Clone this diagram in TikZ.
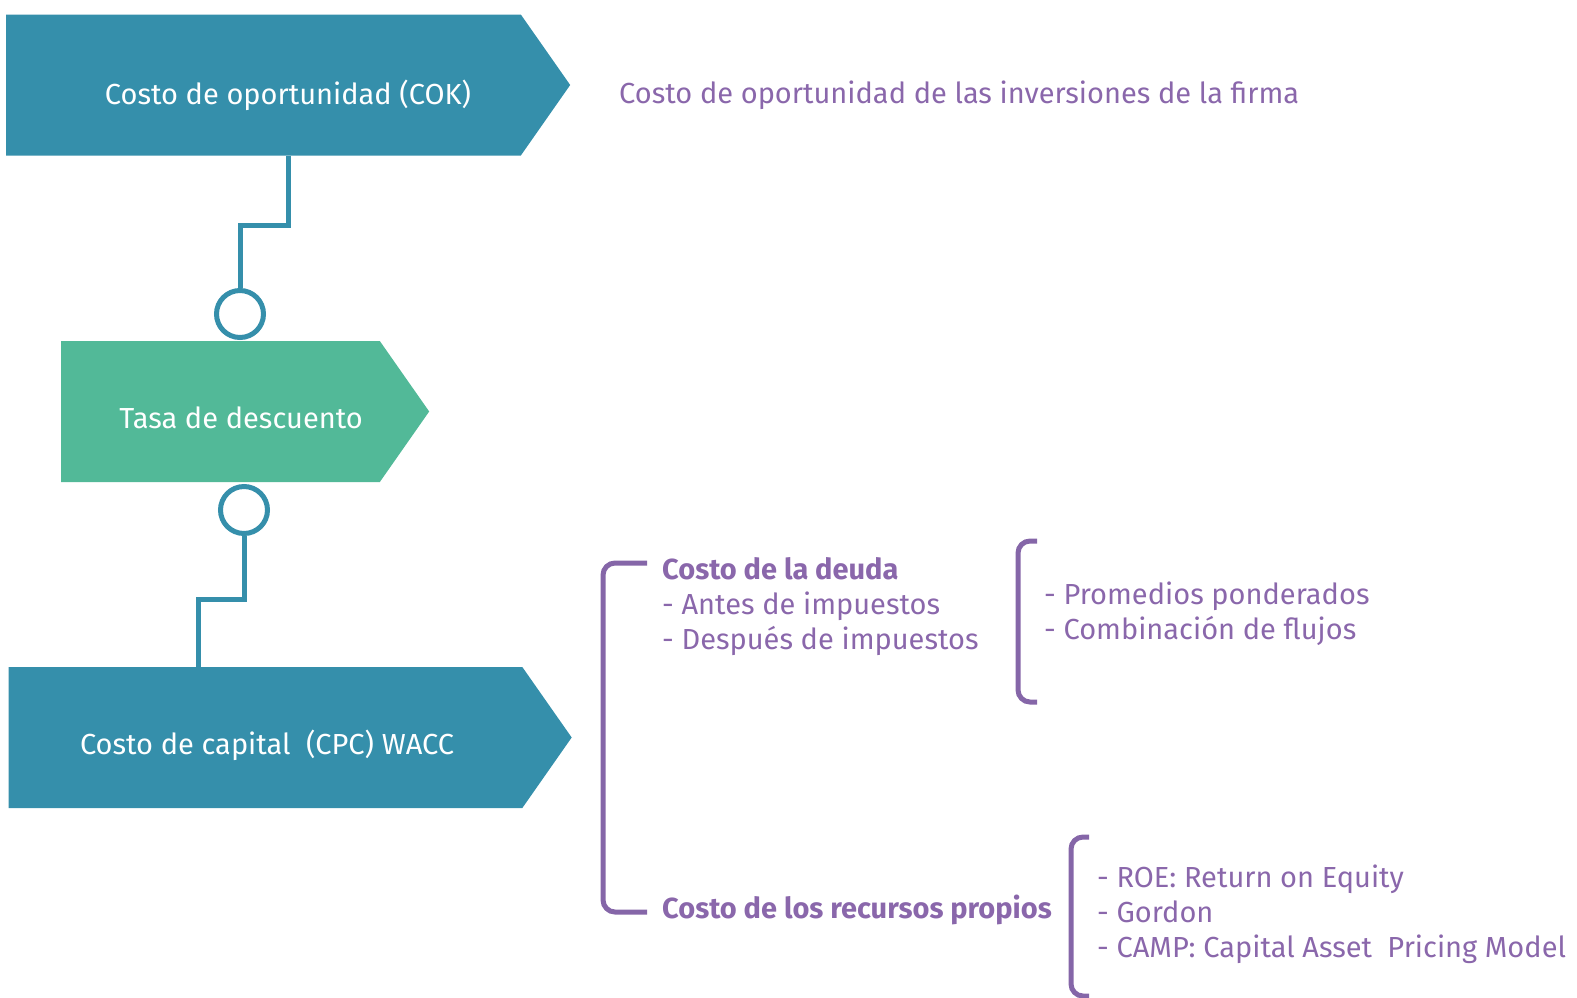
\documentclass[tikz,border=0pt]{standalone}
\usepackage{fontspec}
\setmainfont{Fira Sans}
\usetikzlibrary{shapes.symbols}
\definecolor{tealbox}{HTML}{358FAB}
\definecolor{greenbox}{HTML}{52B998}
\definecolor{purpline}{HTML}{8566A8}
\definecolor{purptext}{HTML}{8A67AB}
\tikzset{
	flowbox/.style={signal, signal to=east, signal pointer angle=110, inner sep=0pt, draw=none, minimum height=141},
	boxtext/.style={text=white, font=\fontsize{29}{35}\selectfont},
	ringnode/.style={circle, draw=tealbox, line width=5, fill=white, minimum size=47, inner sep=0pt},
	tealline/.style={draw=tealbox, line width=5},
	bracket/.style={draw=purpline, line width=5, rounded corners=12},
	notetext/.style={anchor=west, text=purptext, align=left, inner sep=0pt, font=\fontsize{29}{35}\selectfont}
}

\begin{document}
\begin{tikzpicture}[x=1pt, y=-1pt]
			%%%%% START %%%%%
			\useasboundingbox (0,0) rectangle (1577,997);
			
			\node[flowbox, fill=tealbox, minimum width=564] (cok) at (263.5,85) {};
			\node[boxtext] (coktext) at (288,95) {Costo de oportunidad (COK)};
			
			\node[flowbox, fill=greenbox, minimum width=368] (tasa) at (220.5,411.5) {};
			\node[boxtext] (tasatext) at (241,418) {Tasa de descuento};
			
			\node[flowbox, fill=tealbox, minimum width=563] (cpc) at (265.5,737.5) {};
			\node[boxtext] (cpctext) at (267,745) {Costo de capital\ \ (CPC) WACC};
			
			\node[ringnode] (ring1) at (240,314) {};
			\node[ringnode] (ring2) at (244,510) {};
			\coordinate (cokout) at ([xshift=24.5]cok.south);
			\coordinate (cpcin) at (cpc.north -| 198,0);
			
			\draw[tealline] (cokout) -- ++(0,70) -| (ring1.north);
			\draw[tealline] (ring2.south) -- ++(0,63) -| (cpcin);
			
			\node[notetext] (firma) at (619,95) {Costo de oportunidad de las inversiones de la firma};
			
			% brackets
			\draw[bracket] (647,563) -- (603,563) -- (603,912) -- (647,912);
			\draw[bracket] (1037,541) -- (1018,541) -- (1018,702) -- (1037,702);
			\draw[bracket] (1089,837) -- (1071,837) -- (1071,996) -- (1089,996);
			
			\node[notetext] (deuda) at (662,607) {\textbf{Costo de la deuda}\\- Antes de impuestos\\- Después de impuestos};
			\node[notetext] (ponderados) at (1044,614) {- Promedios ponderados\\- Combinación de flujos};
			\node[notetext] (propios) at (662,910) {\textbf{Costo de los recursos propios}};
			\node[notetext] (modelos) at (1097,914) {- ROE: Return on Equity\\- Gordon\\- CAMP: Capital Asset\ \ Pricing Model};
			
			%%%%% END %%%%%
\end{tikzpicture}
\end{document}
